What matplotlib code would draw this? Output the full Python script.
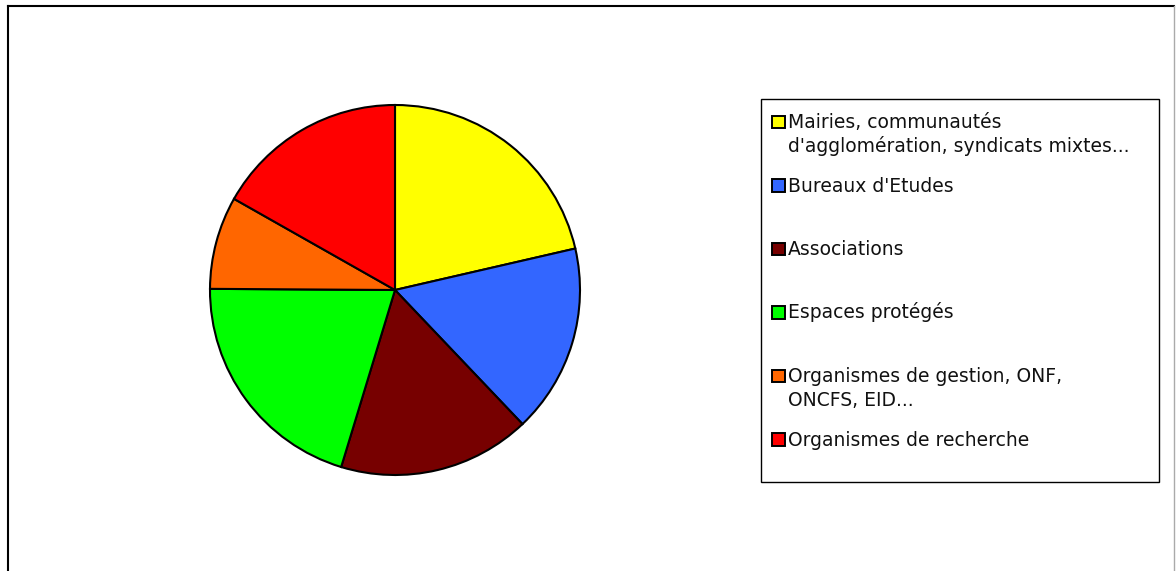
import matplotlib
matplotlib.use("Agg")
import matplotlib.pyplot as plt
from matplotlib.patches import Rectangle

# Répartition des structures (parts en %)
categories = [
    "Mairies, communautés\nd'agglomération, syndicats mixtes...",
    "Bureaux d'Etudes",
    "Associations",
    "Espaces protégés",
    "Organismes de gestion, ONF,\nONCFS, EID...",
    "Organismes de recherche",
]
shares = [21.4, 16.5, 16.8, 20.4, 8.1, 16.8]
colors = ["#FFFF00", "#3366FF", "#770000", "#00FF00", "#FF6600", "#FF0000"]

W, H = 1176, 571
fig = plt.figure(figsize=(W / 100, H / 100), dpi=100)
fig.patch.set_facecolor("white")

# pie: centre (395, 290) px, radius 185 px
cx, cy, r = 395, 290, 185
ax = fig.add_axes([(cx - r) / W, 1 - (cy + r) / H, 2 * r / W, 2 * r / H])
ax.pie(shares, colors=colors, startangle=90, counterclock=False,
       wedgeprops=dict(edgecolor="black", linewidth=1.5))
ax.set_xlim(-1.0, 1.0)
ax.set_ylim(-1.0, 1.0)
ax.axis("off")

# overlay in pixel coordinates for frame and legend
ov = fig.add_axes([0, 0, 1, 1], zorder=5)
ov.set_xlim(0, W)
ov.set_ylim(H, 0)
ov.axis("off")
ov.patch.set_alpha(0)

# chart frame (runs off the bottom edge)
ov.plot([7.5, 7.5], [H + 5, 5.5], color="black", lw=1.5)
ov.plot([7.5, 1174], [5.5, 5.5], color="black", lw=1.5)
ov.plot([1174, 1174], [5.5, H + 5], color="#aaaaaa", lw=1.0)

# legend box
ov.add_patch(Rectangle((761, 99), 398, 383, facecolor="white",
                       edgecolor="black", lw=1.0))

base0, step, line_step = 128, 63.5, 24
for i, (label, col) in enumerate(zip(categories, colors)):
    base = base0 + i * step
    ov.add_patch(Rectangle((772, base - 12.5), 12.5, 12.5, facecolor=col,
                           edgecolor="black", lw=1.4))
    for j, line in enumerate(label.split("\n")):
        ov.text(788, base + j * line_step, line, fontsize=13.5,
                family="DejaVu Sans", color="#111111", va="baseline", ha="left")

fig.savefig("out.png", dpi=100)
